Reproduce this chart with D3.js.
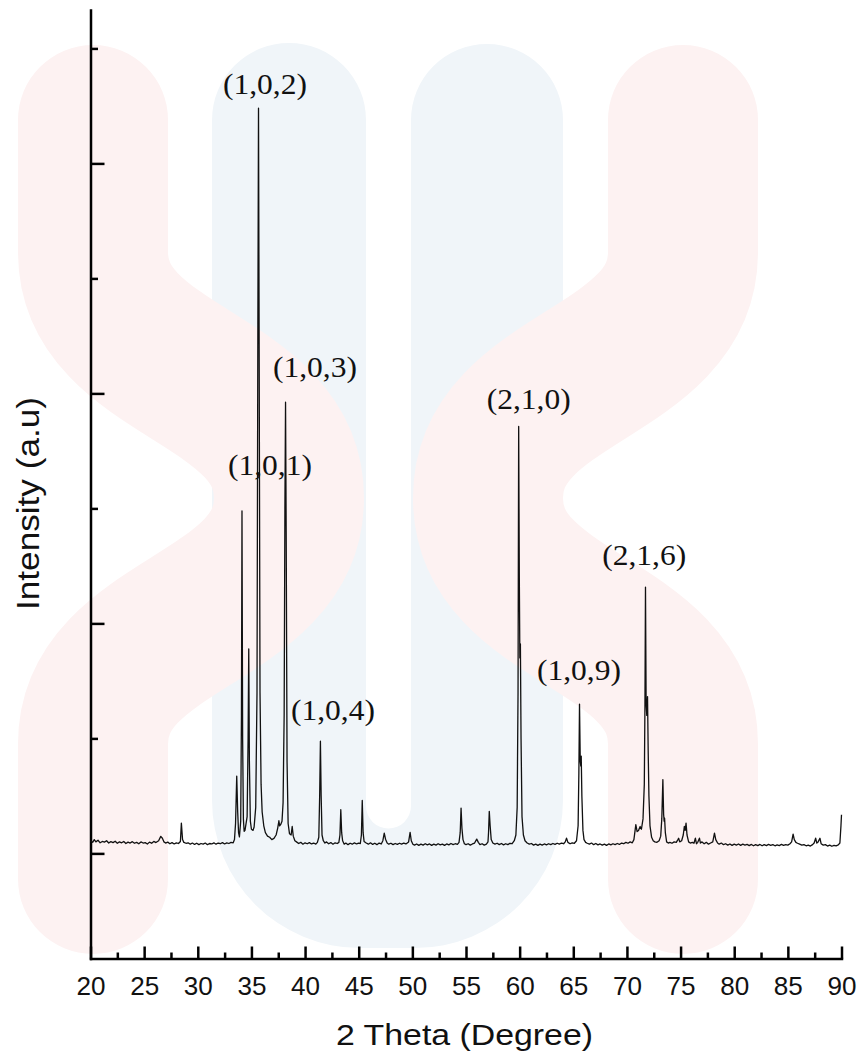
<!DOCTYPE html>
<html><head><meta charset="utf-8">
<script src="https://cdn.jsdelivr.net/npm/d3@7/dist/d3.min.js"></script>
<style>body{margin:0;background:#fff}svg{display:block}</style>
</head><body>
<svg id="chart" width="860" height="1055"></svg>
<script>
// XRD pattern: [2theta (deg), intensity (a.u.)]
const pattern = [
[20.0,55],[20.2,48],[20.35,60],[20.5,50],[20.7,57],[20.9,46],[21.1,52],[21.3,49],[21.5,55],[21.7,45],[21.9,51],[22.1,47],[22.3,53],[22.5,44],[22.7,50],[22.9,46],[23.1,52],[23.3,43],[23.5,49],[23.7,45],[23.9,51],[24.1,44],[24.3,48],[24.5,42],[24.7,50],[24.9,45],[25.1,47],[25.3,41],[25.5,49],[25.7,44],[25.9,52],[26.1,47],
[26.35,55],[26.55,74],[26.7,66],[26.85,50],[27.0,45],[27.2,49],[27.4,42],[27.6,47],[27.8,41],[28.0,46],[28.2,43],
[28.38,52],[28.47,132],[28.58,60],[28.7,48],[28.9,44],[29.1,46],[29.3,40],[29.5,45],[29.7,39],[29.9,44],[30.1,38],[30.3,43],[30.5,40],[30.7,45],[30.9,38],[31.1,43],[31.3,41],[31.5,46],[31.7,40],[31.9,45],[32.1,42],[32.3,47],[32.5,41],[32.7,46],[32.9,43],[33.1,48],[33.3,46],
[33.42,60],[33.52,130],[33.63,336],[33.72,180],[33.8,90],[33.88,72],
[34.0,140],[34.07,600],[34.12,1489],[34.18,500],[34.25,150],[34.32,96],[34.4,100],
[34.6,160],[34.69,500],[34.75,889],[34.81,400],[34.9,140],[35.0,105],[35.15,100],[35.25,115],
[35.4,200],[35.52,700],[35.6,2300],[35.66,3240],[35.72,2200],[35.8,700],[35.9,300],[36.0,180],[36.15,120],[36.3,90],[36.5,75],[36.7,70],[36.9,60],[37.1,65],[37.3,80],
[37.45,110],[37.56,142],[37.63,120],[37.72,125],[37.85,140],[37.95,220],
[38.05,600],[38.12,1500],[38.18,1962],[38.24,1400],[38.32,400],[38.42,130],[38.55,85],[38.7,80],
[38.8,117],[38.9,75],[39.05,55],[39.2,50],[39.4,43],[39.6,48],[39.8,40],[40.0,46],[40.2,42],[40.4,47],[40.6,41],[40.8,45],[41.0,40],[41.15,48],
[41.28,70],[41.36,250],[41.43,488],[41.5,250],[41.58,80],[41.7,55],[41.85,45],[42.0,50],[42.2,42],[42.4,47],[42.6,40],[42.8,46],[43.0,43],[43.15,48],
[43.25,80],[43.33,190],[43.41,90],[43.5,55],[43.65,40],[43.8,45],[44.0,38],[44.2,44],[44.4,40],[44.6,46],[44.8,41],[45.0,45],[45.15,43],
[45.25,80],[45.33,230],[45.41,90],[45.5,52],[45.7,45],[45.9,40],[46.1,46],[46.3,39],[46.5,44],[46.7,38],[46.9,45],[47.1,41],[47.25,55],
[47.38,88],[47.5,62],[47.65,45],[47.8,40],[48.0,44],[48.2,38],[48.4,43],[48.6,39],[48.8,44],[49.0,40],[49.2,45],[49.4,41],[49.65,50],
[49.79,91],[49.9,55],[50.05,40],[50.2,36],[50.4,41],[50.6,35],[50.8,40],[51.0,36],[51.2,42],[51.4,37],[51.6,41],[51.8,35],[52.0,40],[52.2,36],[52.4,42],[52.6,37],[52.8,40],[53.0,35],[53.2,41],[53.4,37],[53.6,43],[53.8,38],[54.0,42],[54.2,39],[54.35,48],
[54.46,90],[54.54,197],[54.62,110],[54.72,60],[54.85,42],[55.0,38],[55.2,42],[55.4,36],[55.6,41],[55.8,45],
[56.0,62],[56.15,48],[56.3,38],[56.5,42],[56.7,36],[56.9,40],[57.05,50],
[57.1,90],[57.17,183],[57.25,120],[57.35,60],[57.5,45],[57.7,40],[57.9,44],[58.1,38],[58.3,43],[58.5,37],[58.7,42],[58.9,38],[59.1,44],[59.3,42],[59.5,55],[59.65,80],[59.77,200],
[59.85,700],[59.91,1856],[59.97,1200],[60.02,850],[60.07,911],[60.13,500],[60.22,160],[60.35,80],[60.5,55],[60.7,45],[60.9,40],[61.1,43],[61.3,36],[61.5,40],[61.7,35],[61.9,40],[62.1,36],[62.3,41],[62.5,37],[62.7,42],[62.9,38],[63.1,43],[63.3,39],[63.5,44],[63.7,40],[63.9,45],[64.1,42],[64.25,50],
[64.37,66],[64.5,48],[64.7,42],[64.9,46],[65.1,44],[65.3,55],[65.45,120],
[65.52,350],[65.58,649],[65.65,400],[65.7,380],[65.74,423],[65.8,250],[65.9,100],[66.0,60],[66.15,48],[66.3,44],[66.5,40],[66.7,45],[66.9,38],[67.1,43],[67.3,37],[67.5,41],[67.7,36],[67.9,40],[68.1,35],[68.3,41],[68.5,37],[68.7,42],[68.9,38],[69.1,43],[69.3,39],[69.5,45],[69.7,42],[69.9,48],[70.1,44],[70.3,50],[70.5,46],[70.65,60],
[70.83,125],[70.95,95],[71.08,100],[71.23,117],[71.35,105],[71.5,150],[71.62,300],
[71.68,650],[71.73,1158],[71.79,650],[71.85,600],[71.92,682],[71.98,450],[72.05,250],[72.15,120],[72.3,70],[72.45,55],[72.6,50],[72.8,48],[73.0,55],[73.15,75],[73.25,150],
[73.35,321],[73.42,170],[73.47,140],[73.51,153],[73.58,90],[73.7,50],[73.85,45],[74.0,48],[74.2,44],[74.4,50],[74.6,48],[74.75,60],
[74.82,66],[74.92,50],[75.1,55],[75.25,80],[75.35,117],[75.43,100],[75.51,132],[75.6,80],[75.75,50],[75.9,45],[76.1,48],[76.25,44],
[76.38,66],[76.48,42],[76.6,48],[76.76,66],[76.85,45],[77.0,50],[77.2,42],[77.4,48],[77.6,40],[77.8,45],[78.0,50],
[78.16,88],[78.28,60],[78.45,45],[78.6,40],[78.8,45],[79.0,38],[79.2,42],[79.4,36],[79.6,41],[79.8,35],[80.0,40],[80.2,36],[80.4,41],[80.6,35],[80.8,40],[81.0,36],[81.2,39],[81.4,34],[81.6,39],[81.8,33],[82.0,38],[82.2,34],[82.4,39],[82.6,33],[82.8,38],[83.0,34],[83.2,39],[83.4,35],[83.6,38],[83.8,33],[84.0,37],[84.2,34],[84.4,39],[84.6,35],[84.8,38],[85.0,36],[85.2,42],[85.35,50],
[85.49,84],[85.6,60],[85.75,48],[85.9,44],[86.1,40],[86.3,36],[86.5,38],[86.7,33],[86.9,36],[87.1,32],[87.3,38],[87.45,45],
[87.59,66],[87.7,45],[87.82,50],[87.99,66],[88.1,42],[88.3,36],[88.5,38],[88.7,32],[88.9,36],[89.1,31],[89.3,35],[89.5,33],[89.7,37],[89.85,45],
[89.95,120],[90.0,168]
];
const xMajorTicks = [20,25,30,35,40,45,50,55,60,65,70,75,80,85,90];
const xMinorTicks = [22.5,27.5,32.5,37.5,42.5,47.5,52.5,57.5,62.5,67.5,72.5,77.5,82.5,87.5];
const yMajorTicks = [0,1000,2000,3000];
const yMinorTicks = [500,1500,2500,3500];
const peakLabels = ["(1,0,2)","(1,0,3)","(1,0,1)","(1,0,4)","(2,1,0)","(1,0,9)","(2,1,6)"];
const labelTheta = [36.26,40.92,36.73,42.6,60.85,65.53,71.61];
const labelIntensity = [3300,2070,1645,582,1932,756,1253];
const xTitle = "2 Theta (Degree)";
const yTitle = "Intensity (a.u)";

const svg = d3.select("#chart");
const x = d3.scaleLinear().domain([20, 90]).range([90.5, 841.5]);
const y = d3.scaleLinear().domain([-457, 3667]).range([958.5, 10]);

// faint background watermark
const wm = svg.append("g");
wm.append("path")
  .attr("d","M212,120 A77,77 0 0 1 366,120 V806 A22,22 0 0 0 411,806 V120 A76,76 0 0 1 563,120 V800 A148,148 0 0 1 415,948 H360 A148,148 0 0 1 212,800 Z")
  .attr("fill","#f0f5f9");
const pinkStroke = (d) => wm.append("path").attr("d", d).attr("fill","none")
  .attr("stroke","#fdf2f2").attr("stroke-width",150)
  .attr("stroke-linecap","round").attr("stroke-linejoin","round");
pinkStroke("M93,120 V252 C93,375 289,375 289,498 C289,621 93,621 93,744 V879");
pinkStroke("M683,120 V252 C683,375 488,375 488,498 C488,621 683,621 683,744 V879");

// axes
const axisStyle = g => {
  g.selectAll(".domain").attr("stroke","#000").attr("stroke-width",2.5).attr("stroke-linecap","square");
  g.selectAll(".tick line").attr("stroke","#000").attr("stroke-width",2.5);
};
const gx = svg.append("g").attr("transform", `translate(0,${y.range()[0]})`)
  .call(d3.axisBottom(x).tickValues(xMajorTicks).tickSize(-12).tickSizeOuter(0).tickFormat(d3.format("d")));
axisStyle(gx);
gx.selectAll(".tick text").attr("y", 36.5).attr("dy", null)
  .attr("font-family","'Liberation Sans', Arial, sans-serif").attr("font-size",26).attr("fill","#111")
  .attr("textLength",29).attr("lengthAdjust","spacingAndGlyphs");
const gxm = svg.append("g").attr("transform", `translate(0,${y.range()[0]})`)
  .call(d3.axisBottom(x).tickValues(xMinorTicks).tickSize(-6).tickSizeOuter(0).tickFormat(""));
gxm.select(".domain").remove();
axisStyle(gxm);

const gy = svg.append("g").attr("transform", `translate(${x.range()[0]},0)`)
  .call(d3.axisLeft(y).tickValues(yMajorTicks).tickSize(-14).tickSizeOuter(0).tickFormat(""));
axisStyle(gy);
const gym = svg.append("g").attr("transform", `translate(${x.range()[0]},0)`)
  .call(d3.axisLeft(y).tickValues(yMinorTicks).tickSize(-7.5).tickSizeOuter(0).tickFormat(""));
gym.select(".domain").remove();
axisStyle(gym);

// pattern line
svg.append("path").datum(pattern)
  .attr("fill","none").attr("stroke","#111").attr("stroke-width",1.3)
  .attr("stroke-linejoin","round")
  .attr("d", d3.line().x(d => x(d[0])).y(d => y(d[1])));

// peak labels
svg.append("g").selectAll("text").data(peakLabels).join("text")
  .attr("x", (d,i) => x(labelTheta[i]))
  .attr("y", (d,i) => y(labelIntensity[i]))
  .attr("text-anchor","middle")
  .attr("font-family","'Liberation Serif', 'Times New Roman', serif")
  .attr("font-size",29).attr("fill","#111")
  .attr("textLength",84).attr("lengthAdjust","spacingAndGlyphs")
  .text(d => d);

// axis titles
svg.append("text").attr("x",464.5).attr("y",1045).attr("text-anchor","middle")
  .attr("font-family","'Liberation Sans', Arial, sans-serif").attr("font-size",30).attr("fill","#111")
  .attr("textLength",257).attr("lengthAdjust","spacingAndGlyphs")
  .text(xTitle);
svg.append("text").attr("transform","translate(39,503.5) rotate(-90)").attr("text-anchor","middle")
  .attr("font-family","'Liberation Sans', Arial, sans-serif").attr("font-size",31).attr("fill","#111")
  .attr("textLength",213).attr("lengthAdjust","spacingAndGlyphs")
  .text(yTitle);
</script>
</body></html>
